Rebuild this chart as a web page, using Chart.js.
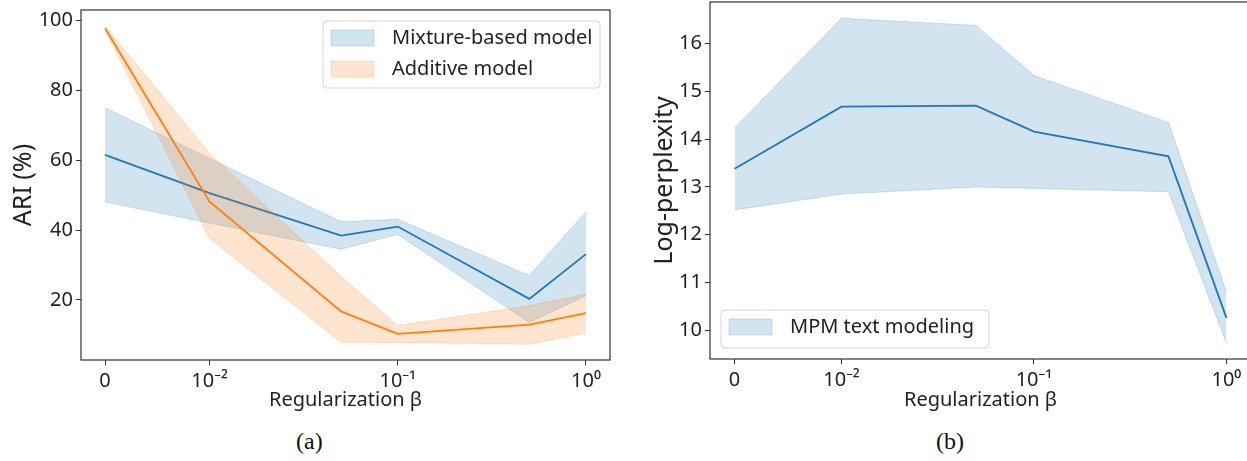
<!DOCTYPE html>
<html>
<head>
<meta charset="utf-8">
<script src="https://cdn.jsdelivr.net/npm/chart.js@4.4.1/dist/chart.umd.min.js"></script>
<style>
  html, body { margin: 0; padding: 0; background: #fff; overflow: hidden; width: 1247px; height: 461px; }
  .pane { position: absolute; top: 0; width: 640px; height: 420px; }
  .cap { position: absolute; top: 428px; font-family: "Liberation Serif", serif; font-size: 24px; color: #111; }
</style>
</head>
<body>
<div class="pane" style="left:0"><canvas id="graficoARI" width="640" height="420"></canvas></div>
<div class="pane" style="left:640px"><canvas id="graficoPerplejidad" width="640" height="420"></canvas></div>
<div class="cap" style="left:296px">(a)</div>
<div class="cap" style="left:936px">(b)</div>
<script>
// valores de beta (regularizacion)
const betas = [0, 0.01, 0.05, 0.1, 0.5, 1];
const ticksBeta = [0, 0.01, 0.1, 1];
const etiquetasBeta = ["0", "10⁻²", "10⁻¹", "10⁰"];

// (a) ARI (%)
const mezclaMedia = [61.5, 50.6, 38.4, 41.0, 20.3, 33.1];
const mezclaSup = [75.0, 60.5, 42.4, 43.1, 27.0, 45.2];
const mezclaInf = [48.0, 42.0, 34.5, 38.8, 13.5, 21.2];
const aditivoMedia = [97.8, 48.1, 16.7, 10.3, 12.9, 16.2];
const aditivoSup = [98.4, 62.0, 26.7, 12.7, 18.3, 21.7];
const aditivoInf = [97.2, 37.6, 7.9, 7.8, 7.3, 10.5];
const ticksARI = [20, 40, 60, 80, 100];

// (b) log-perplejidad
const mpmMedia = [13.38, 14.68, 14.7, 14.16, 13.64, 10.26];
const mpmSup = [14.23, 16.53, 16.38, 15.33, 14.35, 10.8];
const mpmInf = [12.52, 12.85, 13.0, 12.97, 12.9, 9.74];
const ticksPerp = [10, 11, 12, 13, 14, 15, 16];

const AZUL = "#1f77b4";
const AZUL_BANDA = "rgba(31, 119, 180, 0.2)";
const NARANJA = "#ff7f0e";
const NARANJA_BANDA = "rgba(255, 127, 14, 0.2)";
const FUENTE = "'Noto Sans', sans-serif";

// eje symlog: linthresh 0.01, linscale 0.5
const LIN = 0.5 / 0.9;
function symlog(b) {
  return b === 0 ? 0 : LIN + Math.log10(b / 0.01);
}
const xMin = -0.05 * symlog(1);
const xMax = 1.05 * symlog(1);

function puntos(valores) {
  return betas.map((b, i) => ({ x: symlog(b), y: valores[i] }));
}

function banda(sup, inf, color, orden) {
  return [
    { data: puntos(sup), borderColor: color, borderWidth: 1, pointRadius: 0, fill: false, order: orden },
    { data: puntos(inf), borderColor: color, borderWidth: 1, pointRadius: 0, fill: "-1", backgroundColor: color, order: orden },
  ];
}

function linea(valores, color, orden) {
  return { data: puntos(valores), borderColor: color, borderWidth: 1.8, pointRadius: 0, fill: false, order: orden };
}

const marco = {
  id: "marco",
  afterDraw(chart) {
    const a = chart.chartArea;
    const ctx = chart.ctx;
    ctx.save();
    ctx.strokeStyle = "#333";
    ctx.lineWidth = 1.2;
    ctx.strokeRect(a.left, a.top, a.right - a.left, a.bottom - a.top);
    ctx.restore();
  },
};

// leyenda dibujada dentro del area del grafico
function leyenda(items, caja) {
  return {
    id: "leyenda",
    afterDraw(chart) {
      const a = chart.chartArea;
      const ctx = chart.ctx;
      const x = caja.right != null ? a.right - caja.right - caja.w : a.left + caja.left;
      const y = caja.bottom != null ? a.bottom - caja.bottom - caja.h : a.top + caja.top;
      ctx.save();
      ctx.beginPath();
      ctx.roundRect(x, y, caja.w, caja.h, 4);
      ctx.fillStyle = "rgba(255,255,255,0.8)";
      ctx.fill();
      ctx.strokeStyle = "#d6d6d6";
      ctx.lineWidth = 1;
      ctx.stroke();
      ctx.font = "20px " + FUENTE;
      ctx.textBaseline = "middle";
      items.forEach((it, i) => {
        const cy = y + 17 + i * 31;
        ctx.fillStyle = it.color;
        ctx.fillRect(x + 8, cy - 8, 43, 16);
        ctx.strokeStyle = it.color;
        ctx.strokeRect(x + 8, cy - 8, 43, 16);
        ctx.fillStyle = "#222";
        ctx.fillText(it.texto, x + 69, cy);
      });
      ctx.restore();
    },
  };
}

function ejeX(alto) {
  return {
    type: "linear",
    min: xMin,
    max: xMax,
    afterBuildTicks: (eje) => { eje.ticks = ticksBeta.map((b) => ({ value: symlog(b) })); },
    afterFit: (eje) => { eje.height = alto; eje.paddingLeft = 0; eje.paddingRight = 0; },
    grid: { drawOnChartArea: false, drawTicks: true, tickLength: 5, color: "#333" },
    border: { display: false },
    ticks: {
      padding: 4,
      color: "#222",
      font: { family: FUENTE, size: 20 },
      maxRotation: 0,
      callback: (v) => {
        const i = ticksBeta.findIndex((b) => Math.abs(symlog(b) - v) < 1e-6);
        return i >= 0 ? etiquetasBeta[i] : "";
      },
    },
    title: { display: true, text: "Regularization β", color: "#222", font: { family: FUENTE, size: 20 }, padding: { top: 0, bottom: 8 } },
  };
}

function ejeY(min, max, ticks, ancho, titulo, padTitulo) {
  return {
    min: min,
    max: max,
    afterBuildTicks: (eje) => { eje.ticks = ticks.map((v) => ({ value: v })); },
    afterFit: (eje) => { eje.width = ancho; eje.paddingTop = 0; eje.paddingBottom = 0; },
    grid: { drawOnChartArea: false, drawTicks: true, tickLength: 5, color: "#333" },
    border: { display: false },
    ticks: { padding: 3, color: "#222", font: { family: FUENTE, size: 20 } },
    title: { display: true, text: titulo, color: "#222", font: { family: FUENTE, size: 25 }, padding: { top: padTitulo, bottom: 0 } },
  };
}

const comunes = {
  responsive: false,
  animation: false,
  devicePixelRatio: 1,
  elements: { line: { tension: 0 } },
  plugins: { legend: { display: false }, tooltip: { enabled: false } },
};

new Chart(document.getElementById("graficoARI").getContext("2d"), {
  type: "line",
  data: {
    datasets: [
      ...banda(mezclaSup, mezclaInf, AZUL_BANDA, 4),
      linea(mezclaMedia, AZUL, 3),
      ...banda(aditivoSup, aditivoInf, NARANJA_BANDA, 2),
      linea(aditivoMedia, NARANJA, 1),
    ],
  },
  options: {
    ...comunes,
    layout: { padding: { top: 10, right: 30, left: 0, bottom: 0 } },
    scales: {
      x: ejeX(60),
      y: ejeY(2.8, 103, ticksARI, 81, "ARI (%)", 9),
    },
  },
  plugins: [
    marco,
    leyenda(
      [
        { color: AZUL_BANDA, texto: "Mixture-based model" },
        { color: NARANJA_BANDA, texto: "Additive model" },
      ],
      { right: 10, top: 11, w: 277, h: 67 }
    ),
  ],
});

new Chart(document.getElementById("graficoPerplejidad").getContext("2d"), {
  type: "line",
  data: {
    datasets: [
      ...banda(mpmSup, mpmInf, AZUL_BANDA, 2),
      linea(mpmMedia, AZUL, 1),
    ],
  },
  options: {
    ...comunes,
    layout: { padding: { top: 2, right: 29, left: 0, bottom: 0 } },
    scales: {
      x: ejeX(61),
      y: ejeY(9.4, 16.87, ticksPerp, 70, "Log-perplexity", 10),
    },
  },
  plugins: [
    marco,
    leyenda([{ color: AZUL_BANDA, texto: "MPM text modeling" }], { left: 11, bottom: 11, w: 268, h: 38 }),
  ],
});
</script>
</body>
</html>
